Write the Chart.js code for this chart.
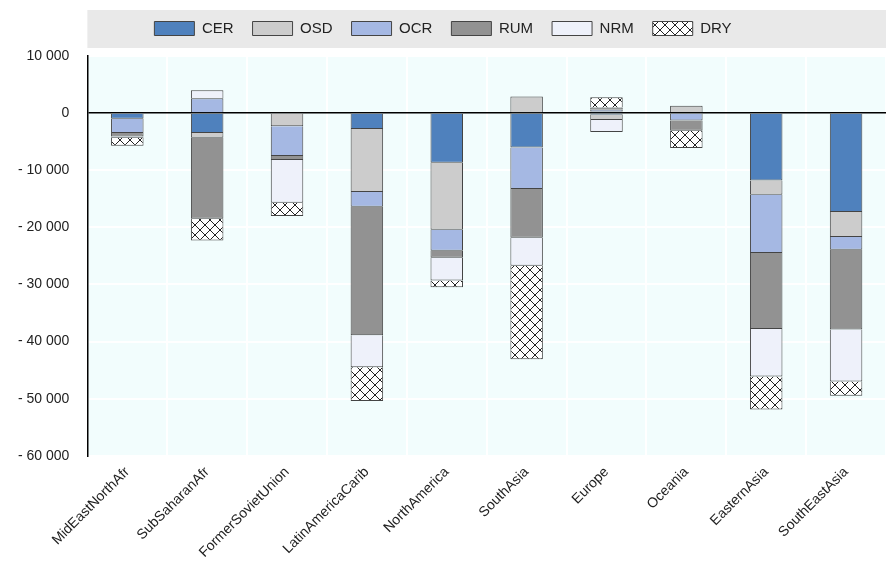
<!DOCTYPE html>
<html>
<head>
<meta charset="utf-8">
<script src="https://cdn.jsdelivr.net/npm/chart.js@4"></script>
<style>
html, body { margin: 0; padding: 0; background: #fff; }
#wrap { width: 886px; height: 569px; }
</style>
</head>
<body>
<div id="wrap"><canvas id="chart"></canvas></div>
<script>
var regions = ['MidEastNorthAfr', 'SubSaharanAfr', 'FormerSovietUnion', 'LatinAmericaCarib', 'NorthAmerica',
    'SouthAsia', 'Europe', 'Oceania', 'EasternAsia', 'SouthEastAsia'];

// negative and positive parts of each component
var CER_neg = [-1000, -3500, 0, -2800, -8700, -6000, -300, 0, -11800, -17300];
var OSD_neg = [0, -800, -2300, -11000, -11700, 0, -900, 0, -2500, -4400];
var OCR_neg = [-2500, 0, -5200, -2600, -3700, -7300, 0, -1300, -10200, -2200];
var RUM_neg = [-600, -14200, -700, -22500, -1200, -8500, 0, -1800, -13300, -14000];
var NRM_neg = [-200, 0, -7500, -5600, -4000, -4900, -2100, 0, -8300, -9100];
var DRY_neg = [-1400, -3800, -2300, -5900, -1200, -16400, 0, -3000, -5800, -2500];

var CER_pos = [0, 0, 0, 0, 0, 0, 300, 200, 0, 0];
var OSD_pos = [0, 0, 0, 0, 0, 2900, 0, 1100, 0, 0];
var OCR_pos = [0, 2600, 0, 0, 0, 0, 300, 0, 0, 0];
var RUM_pos = [0, 0, 0, 0, 0, 0, 400, 0, 0, 0];
var NRM_pos = [0, 1400, 0, 0, 0, 0, 0, 0, 0, 0];
var DRY_pos = [0, 0, 0, 0, 0, 0, 1800, 0, 0, 0];

var yTicks = [10000, 0, -10000, -20000, -30000, -40000, -50000, -60000];

// crosshatch pattern for DRY
function makeHatch() {
    var c = document.createElement('canvas');
    c.width = 10; c.height = 10;
    var g = c.getContext('2d');
    g.fillStyle = '#fff';
    g.fillRect(0, 0, 10, 10);
    g.strokeStyle = '#222';
    g.lineWidth = 1;
    g.beginPath();
    g.moveTo(0, 0); g.lineTo(10, 10);
    g.moveTo(10, 0); g.lineTo(0, 10);
    g.stroke();
    return g.createPattern(c, 'repeat');
}
var hatch = makeHatch();

var series = [
    {name: 'CER', color: '#4f81bd', neg: CER_neg, pos: CER_pos},
    {name: 'OSD', color: '#cccccc', neg: OSD_neg, pos: OSD_pos},
    {name: 'OCR', color: '#a5b8e3', neg: OCR_neg, pos: OCR_pos},
    {name: 'RUM', color: '#929292', neg: RUM_neg, pos: RUM_pos},
    {name: 'NRM', color: '#eef1fa', neg: NRM_neg, pos: NRM_pos},
    {name: 'DRY', color: hatch, neg: DRY_neg, pos: DRY_pos}
];

var datasets = [];
series.forEach(function (s) {
    datasets.push({label: s.name, data: s.neg, backgroundColor: s.color, borderColor: '#444', borderWidth: 1, stack: 's', barPercentage: 0.74, categoryPercentage: 0.55});
});
series.forEach(function (s) {
    datasets.push({label: s.name + '_p', data: s.pos, backgroundColor: s.color, borderColor: '#444', borderWidth: 1, stack: 's', barPercentage: 0.74, categoryPercentage: 0.55});
});

var bgPlugin = {
    id: 'bg',
    beforeInit: function (chart) {
        var orig = chart.legend.fit;
        chart.legend.fit = function () { orig.call(this); this.height += 10; };
    },
    beforeDraw: function (chart) {
        var ctx = chart.ctx, a = chart.chartArea;
        ctx.save();
        ctx.fillStyle = '#e9e9e9';
        ctx.fillRect(a.left, 10, a.right - a.left, 38);
        ctx.fillStyle = '#f2fdfd';
        ctx.fillRect(a.left, a.top, a.right - a.left, a.bottom - a.top);
        ctx.restore();
    }
};

new Chart(document.getElementById('chart'), {
    type: 'bar',
    data: {labels: regions, datasets: datasets},
    plugins: [bgPlugin],
    options: {
        responsive: true,
        maintainAspectRatio: false,
        animation: false,
        layout: {padding: {top: 2, right: 0, left: 0, bottom: 0}},
        plugins: {
            tooltip: {enabled: false},
            legend: {
                position: 'top',
                labels: {
                    boxWidth: 40, boxHeight: 14, padding: 19,
                    font: {family: 'Arial, Liberation Sans', size: 15}, color: '#222',
                    filter: function (item) { return item.text.indexOf('_p') < 0; }
                }
            }
        },
        scales: {
            x: {
                stacked: true,
                grid: {color: '#ffffff', lineWidth: 2, drawTicks: false},
                border: {display: false},
                ticks: {
                    maxRotation: 45, minRotation: 45, padding: 8,
                    font: {family: 'Arial, Liberation Sans', size: 14}, color: '#222'
                }
            },
            y: {
                stacked: true,
                min: -60000, max: 10000,
                afterBuildTicks: function (ax) { ax.ticks = yTicks.map(function (v) { return {value: v}; }); },
                grid: {
                    color: function (c) { return c.tick && c.tick.value === 0 ? '#000' : '#ffffff'; },
                    lineWidth: function (c) { return c.tick && c.tick.value === 0 ? 1.5 : 2; },
                    drawTicks: false
                },
                border: {display: true, color: '#000', width: 1.5},
                ticks: {
                    padding: 18,
                    font: {family: 'Arial, Liberation Sans', size: 14}, color: '#222',
                    callback: function (v) {
                        var s = Math.abs(v).toString().replace(/\B(?=(\d{3})+(?!\d))/g, ' ');
                        return v < 0 ? '- ' + s : s;
                    }
                }
            }
        }
    }
});
</script>
</body>
</html>
